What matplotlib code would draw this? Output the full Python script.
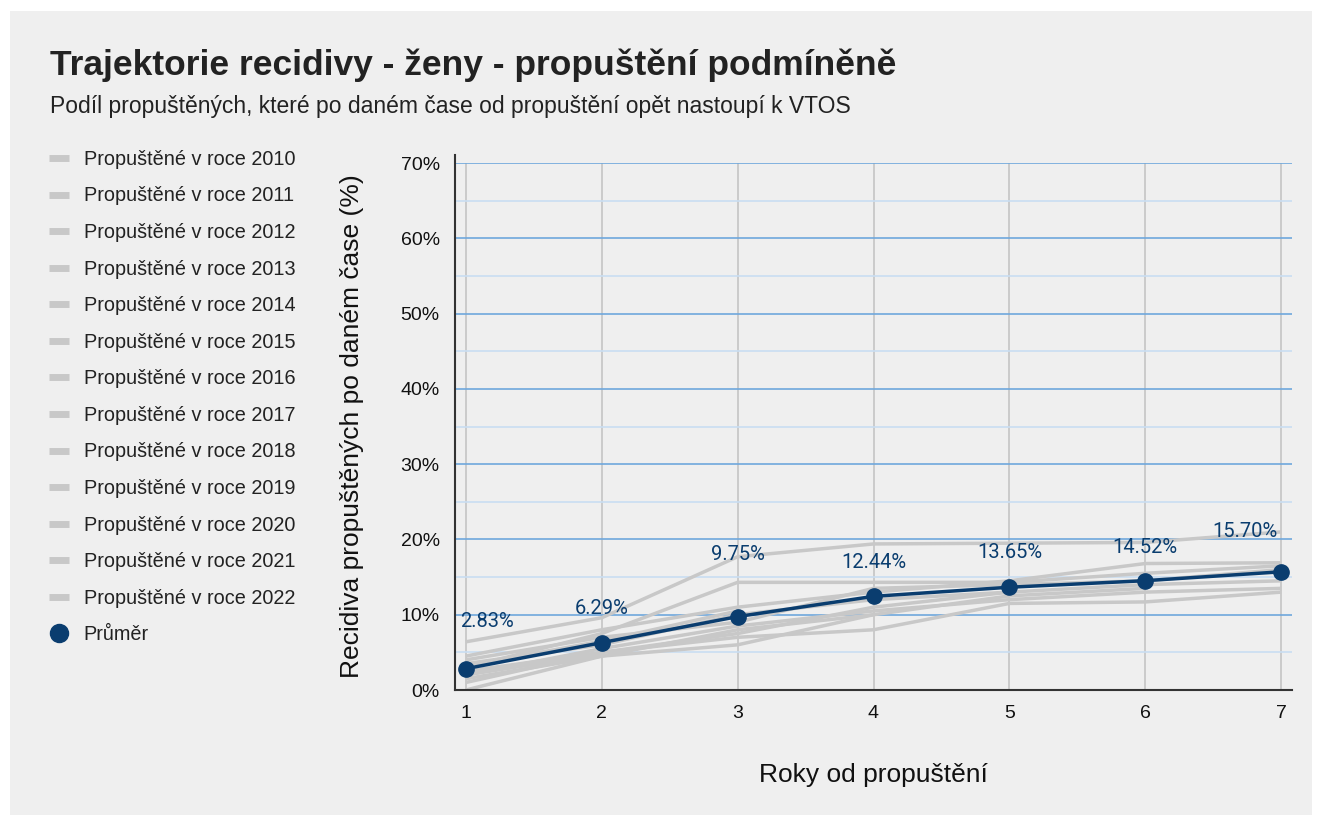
import matplotlib.pyplot as plt
from matplotlib.patches import Rectangle
from matplotlib.ticker import MultipleLocator, FuncFormatter

# Data (recidivism share in %, per years since release)
years = [1, 2, 3, 4, 5, 6, 7]
cohorts = ["2010", "2011", "2012", "2013", "2014", "2015", "2016",
           "2017", "2018", "2019", "2020", "2021", "2022"]

r2010 = [4.5, 8.0, 11.0, 13.0, 14.5, 16.8, 16.9]
r2011 = [6.4, 9.6, 17.7, 19.4, 19.5, 19.6, 21.0]
r2012 = [3.0, 7.5, 14.3, 14.3, 14.3, 15.5, 16.5]
r2013 = [2.0, 5.5, 8.5, 10.5, 12.0, 13.0, 13.5]
r2014 = [1.0, 5.0, 7.0, 8.0, 11.5, 11.7, 13.0]
r2015 = [3.5, 6.0, 10.0, 12.0, 13.0, 14.0, 14.5]
r2016 = [4.0, 7.0, 9.0, 13.5, 14.0, 14.5, 16.0]
r2017 = [0.0, 4.5, 6.0, 10.0, 12.5, 13.5]
r2018 = [2.5, 5.0, 7.5, 11.0, 13.0]
r2019 = [1.5, 4.5, 8.0, 10.0]
r2020 = [3.2, 6.5, 10.5]
r2021 = [2.0, 4.8]
r2022 = [4.2]
series = [r2010, r2011, r2012, r2013, r2014, r2015, r2016,
          r2017, r2018, r2019, r2020, r2021, r2022]

average = [2.83, 6.29, 9.75, 12.44, 13.65, 14.52, 15.70]

W, H = 1322, 821
fig = plt.figure(figsize=(W / 100, H / 100), dpi=100, facecolor="white")

# grey card background
fig.patches.append(Rectangle((10 / W, 6 / H), 1302 / W, 804 / H,
                             transform=fig.transFigure, facecolor="#efefef",
                             edgecolor="none", zorder=-10))

ax = fig.add_axes([455 / W, 131 / H, 837 / W, 527 / H])
ax.set_facecolor("#efefef")

grey = "#c8c8c8"
navy = "#0a3d6f"

handles = []
for lab, vals in zip(cohorts, series):
    ln, = ax.plot(years[:len(vals)], vals, color=grey, lw=2.5,
                  solid_capstyle="butt", label="Propuštěné v roce " + lab, zorder=2)
    handles.append(ln)

avg_ln, = ax.plot(years, average, color=navy, lw=2.5, marker="o", markersize=11,
                  label="Průměr", zorder=4)

# data labels (offsets in points)
offsets = [(15, 34), (0, 24.5), (0, 45), (0, 24.5), (0, 25), (0, 24), (-26, 29)]
for x, v, off in zip(years, average, offsets):
    ax.annotate(f"{v:.2f}%", (x, v), xytext=off, textcoords="offset points",
                ha="center", va="center", color=navy, fontsize=14.5,
                family="Roboto", zorder=5)

ax.set_xlim(0.92, 7.08)
ax.set_ylim(0, 70)
ax.set_xticks(years)
ax.yaxis.set_major_locator(MultipleLocator(10))
ax.yaxis.set_minor_locator(MultipleLocator(5))
ax.yaxis.set_major_formatter(FuncFormatter(lambda v, p: f"{v:.0f}%"))

ax.grid(axis="y", which="major", color="#6fa8dc", lw=1.2, zorder=0)
ax.grid(axis="y", which="minor", color="#c9def2", lw=1.2, zorder=0)
ax.grid(axis="x", which="major", color="#c4c4c4", lw=1.2, zorder=0)
ax.set_axisbelow(True)

for s in ["top", "right"]:
    ax.spines[s].set_visible(False)
for s in ["left", "bottom"]:
    ax.spines[s].set_color("#333333")
    ax.spines[s].set_linewidth(1.5)
ax.spines["left"].set_bounds(0, 71)

ax.tick_params(axis="both", which="both", length=0, labelsize=14, colors="#111111")
ax.tick_params(axis="x", pad=10.5)
ax.tick_params(axis="y", pad=11)
for t in ax.get_xticklabels() + ax.get_yticklabels():
    t.set_family("Liberation Sans")

ax.set_xlabel("Roky od propuštění", fontsize=19, family="Liberation Sans",
              color="#111111", labelpad=30)
ax.set_ylabel("Recidiva propuštěných po daném čase (%)", fontsize=19,
              family="Liberation Sans", color="#111111", labelpad=26)

fig.text(50 / W, 1 - 65 / H, "Trajektorie recidivy - ženy - propuštění podmíněně",
         fontsize=25.5, fontweight="bold", family="Liberation Sans",
         color="#222222", va="center", ha="left")
fig.text(50 / W, 1 - 107 / H,
         "Podíl propuštěných, které po daném čase od propuštění opět nastoupí k VTOS",
         fontsize=16.5, family="Liberation Sans", color="#222222", va="center", ha="left")

leg = fig.legend(handles=handles + [avg_ln], loc="upper left",
                 bbox_to_anchor=(31 / W, 1 - 132 / H), frameon=False,
                 labelspacing=0.885, handlelength=1.0,
                 handletextpad=0.75, prop={"family": "Liberation Sans", "size": 14.3})
for h in leg.legend_handles[:-1]:
    h.set_linewidth(5)
leg.legend_handles[-1].set_linestyle("none")
leg.legend_handles[-1].set_markersize(13)
for t in leg.get_texts():
    t.set_color("#222222")

fig.savefig("out.png", dpi=100, facecolor=fig.get_facecolor())
